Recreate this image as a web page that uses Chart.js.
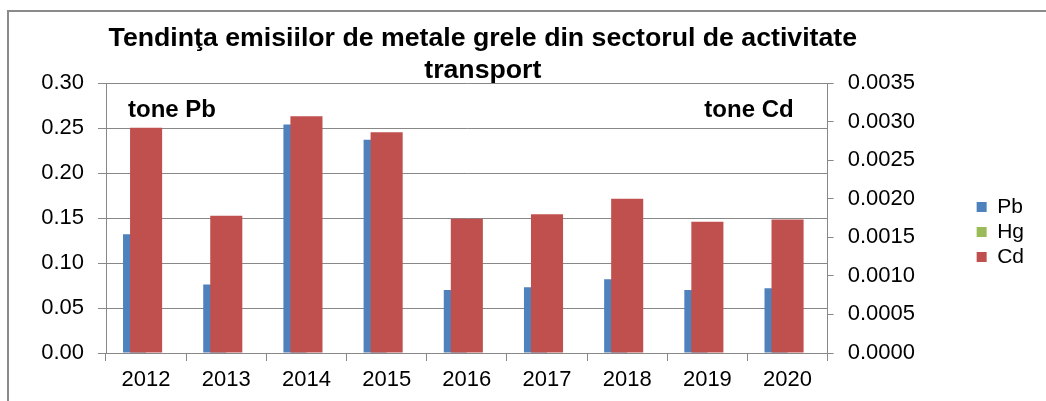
<!DOCTYPE html>
<html>
<head>
<meta charset="utf-8">
<script src="https://cdn.jsdelivr.net/npm/chart.js@4.4.1/dist/chart.umd.min.js"></script>
<style>
  html, body { margin: 0; padding: 0; background: #ffffff; }
  #wrap { position: relative; width: 1046px; height: 401px; overflow: hidden; }
  #frame { position: absolute; left: 7px; top: 10px; width: 1100px; height: 500px;
           border-left: 2px solid #8a8a8a; border-top: 2px solid #8a8a8a; pointer-events: none; }
  canvas { position: absolute; left: 0; top: 0; }
</style>
</head>
<body>
<div id="wrap">
  <canvas id="chart" width="1046" height="401"></canvas>
  <div id="frame"></div>
</div>
<script>
// Years on the category axis
const years = ['2012', '2013', '2014', '2015', '2016', '2017', '2018', '2019', '2020'];

// Emissions, tonnes
const pbValues = [0.132, 0.076, 0.254, 0.237, 0.070, 0.073, 0.082, 0.070, 0.072];
const hgValues = [0, 0, 0, 0, 0, 0, 0, 0, 0];
const cdValues = [0.00292, 0.00178, 0.00307, 0.00286, 0.00174, 0.00180, 0.00200, 0.00170, 0.00173];

// Axis ticks
const pbTicks = [0, 0.05, 0.10, 0.15, 0.20, 0.25, 0.30];
const cdTicks = [0, 0.0005, 0.0010, 0.0015, 0.0020, 0.0025, 0.0030, 0.0035];

const titleLines = ['Tendinţa emisiilor de metale grele din sectorul de activitate', 'transport'];
const pbUnit = 'tone Pb';
const cdUnit = 'tone Cd';

const FONT = '"Liberation Sans", Arial, sans-serif';
const GRID = '#888888';

// Title and unit captions drawn over the chart
const captions = {
  id: 'captions',
  afterDraw(chart) {
    const { ctx, chartArea } = chart;
    ctx.save();
    ctx.fillStyle = '#000000';
    ctx.textBaseline = 'middle';
    ctx.font = 'bold 26.7px ' + FONT;
    ctx.textAlign = 'center';
    const cx = (chartArea.left + chartArea.right) / 2 + 16;
    ctx.fillText(titleLines[0], cx, 39);
    ctx.fillText(titleLines[1], cx, 71);
    ctx.font = 'bold 24px ' + FONT;
    ctx.textAlign = 'left';
    ctx.fillText(pbUnit, chartArea.left + 22, 110);
    ctx.textAlign = 'right';
    ctx.fillText(cdUnit, chartArea.right - 34, 110);
    ctx.restore();
  }
};

new Chart(document.getElementById('chart'), {
  type: 'bar',
  data: {
    labels: years,
    datasets: [
      { label: 'Pb', data: pbValues, yAxisID: 'y', backgroundColor: '#4F81BD',
        categoryPercentage: 0.575, barPercentage: 1.0 },
      { label: 'Hg', data: hgValues, yAxisID: 'y', backgroundColor: '#9BBB59',
        categoryPercentage: 0.575, barPercentage: 1.0 },
      { label: 'Cd', data: cdValues, yAxisID: 'y1', backgroundColor: '#C0504D',
        grouped: false, categoryPercentage: 1.0, barPercentage: 0.4, order: -1 }
    ]
  },
  options: {
    responsive: false,
    animation: false,
    layout: { padding: { left: 0, right: 12, top: 83, bottom: 0 } },
    plugins: {
      title: { display: false },
      tooltip: { enabled: false },
      legend: {
        position: 'right',
        align: 'center',
        fullSize: false,
        title: { display: true, text: '', font: { size: 1 }, padding: { top: 27, bottom: 0 } },
        labels: {
          boxWidth: 10, boxHeight: 10, padding: 4, color: '#000000',
          font: { family: FONT, size: 21 },
          sort: (a, b) => a.datasetIndex - b.datasetIndex
        }
      }
    },
    scales: {
      x: {
        offset: true,
        grid: { display: true, drawOnChartArea: false, drawTicks: true, tickLength: 8, color: GRID, offset: true },
        border: { display: true, color: GRID },
        ticks: { color: '#000000', padding: 6, font: { family: FONT, size: 22 }, maxRotation: 0 },
        afterFit: (s) => { s.height = 48; }
      },
      y: {
        position: 'left',
        min: 0, max: 0.30,
        afterBuildTicks: (s) => { s.ticks = pbTicks.map(v => ({ value: v })); },
        grid: { color: GRID, tickLength: 8 },
        border: { display: true, color: GRID },
        ticks: { color: '#000000', padding: 14, font: { family: FONT, size: 22 },
                 callback: (v) => Number(v).toFixed(2) },
        afterFit: (s) => { s.width = 106; }
      },
      y1: {
        position: 'right',
        min: 0, max: 0.0035,
        afterBuildTicks: (s) => { s.ticks = cdTicks.map(v => ({ value: v })); },
        grid: { drawOnChartArea: false, color: GRID, tickLength: 6 },
        border: { display: true, color: GRID },
        ticks: { color: '#000000', padding: 14, font: { family: FONT, size: 22 },
                 callback: (v) => Number(v).toFixed(4) },
        afterFit: (s) => { s.width = 145; }
      }
    }
  },
  plugins: [captions]
});
</script>
</body>
</html>
